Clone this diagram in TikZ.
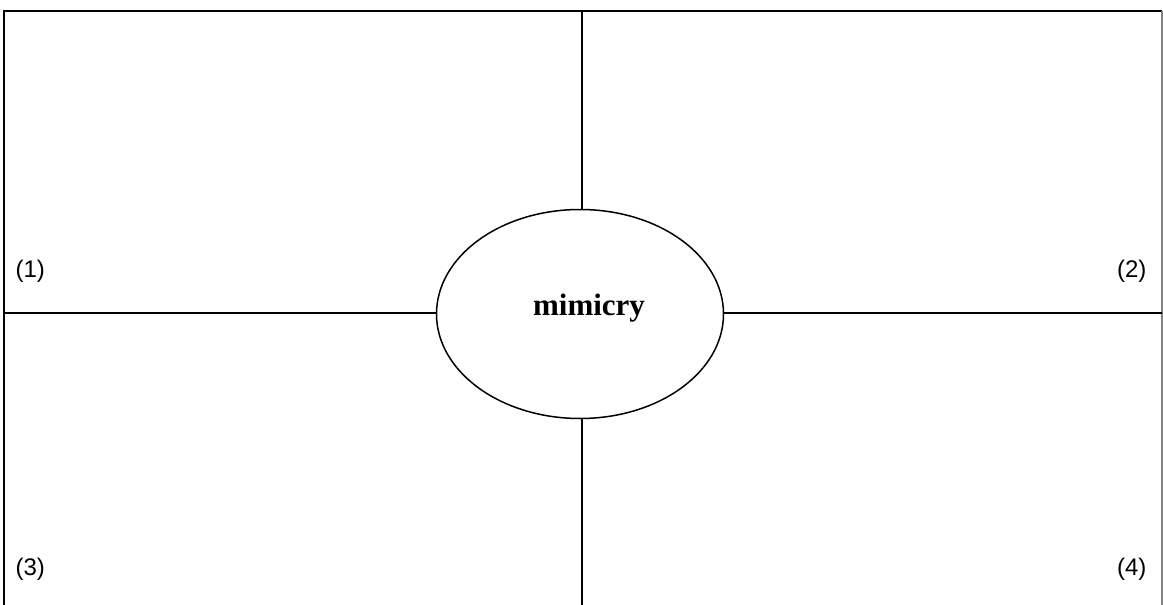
\documentclass[tikz,border=0pt]{standalone}
\usepackage{fontspec}
\setmainfont{Liberation Serif}
\setsansfont{Liberation Sans}
\usetikzlibrary{shapes.geometric}

\begin{document}
\begin{tikzpicture}[
    x=1pt, y=-1pt,
    frame/.style={line width=1.5pt},
    bubble/.style={ellipse, draw, line width=1.5pt, minimum width=287pt, minimum height=209pt, inner sep=0pt},
    num/.style={font=\sffamily\fontsize{24}{27}\selectfont}
]
\useasboundingbox (0,0) rectangle (1163,605);

% Frame corners (no bottom edge)
\coordinate (BL) at (4,605);
\coordinate (TL) at (4,11);
\coordinate (TR) at (1162,11);
\coordinate (BR) at (1162,605);

% Centre ellipse
\node[bubble] (mim) at (580,314) {};
\node[font=\bfseries\fontsize{31}{34}\selectfont] (word) at ([xshift=9pt, yshift=6pt]mim.center) {mimicry};

% Ends of the cross lines
\coordinate (Lend) at (4,313);
\coordinate (Rend) at (1162,313);
\coordinate (Ctop) at (582,11);
\coordinate (Cbot) at (582,605);

% Frame
\draw[frame] (BL) -- (TL) -- (TR);
\draw[frame, gray] (TR) -- (BR);

% Cross
\draw[frame] (Lend) -- (mim.west |- Lend);
\draw[frame] (mim.east |- Rend) -- (Rend);
\draw[frame] (Ctop) -- (Ctop |- mim.north);
\draw[frame] (Cbot |- mim.south) -- (Cbot);

% Quadrant numbers
\node[num, anchor=base west] (Q1) at (12,277) {(1)};
\node[num, anchor=base east] (Q2) at (1150,277) {(2)};
\node[num, anchor=base west] (Q3) at (12,575) {(3)};
\node[num, anchor=base east] (Q4) at (1150,575) {(4)};

\end{tikzpicture}
\end{document}
